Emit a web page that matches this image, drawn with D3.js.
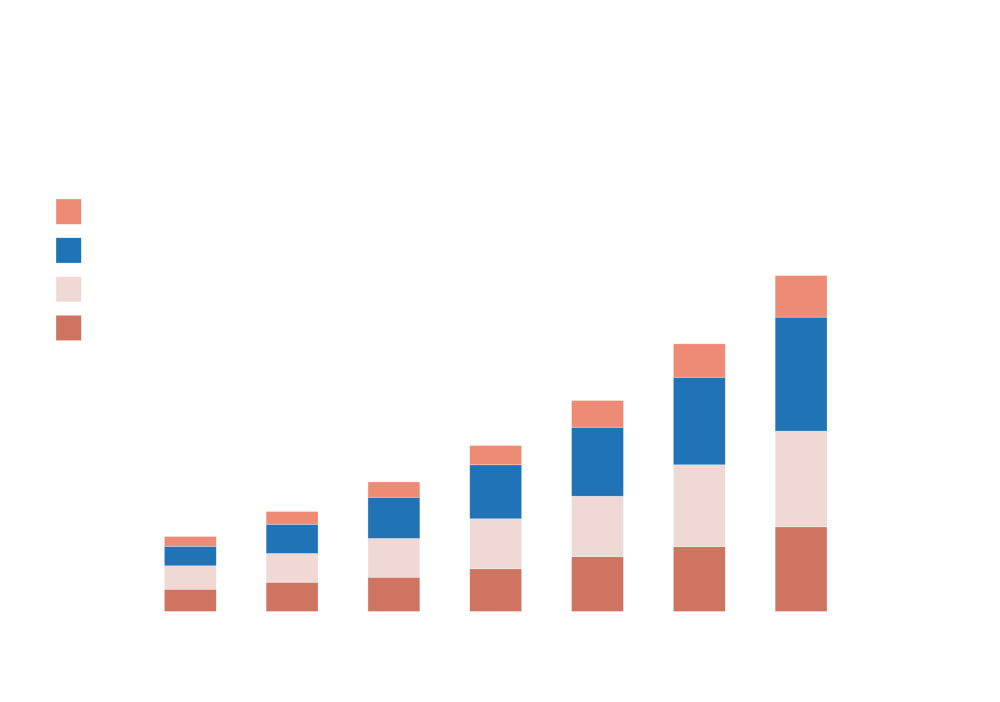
<!DOCTYPE html>
<html>
<head>
<meta charset="utf-8">
<script src="https://cdn.jsdelivr.net/npm/d3@7/dist/d3.min.js"></script>
<style>
  html, body { margin: 0; padding: 0; background: #ffffff; }
  svg { display: block; }
</style>
</head>
<body>
<div id="chart"></div>
<script>
// ---- data ----
const categories = ["C1", "C2", "C3", "C4", "C5", "C6", "C7"];
const seriesNames = ["S4", "S3", "S2", "S1"]; // bottom -> top
const s4 = [22.3, 29.3, 34.3, 42.7, 55.0, 65.0, 84.7];   // dark terracotta (bottom)
const s3 = [23.4, 28.7, 38.7, 50.0, 60.3, 81.7, 95.7];   // pale pink
const s2 = [19.6, 29.3, 41.3, 54.0, 69.0, 87.6, 114.0];  // blue
const s1 = [9.7, 12.7, 15.3, 19.3, 26.7, 33.4, 41.6];    // salmon (top)
const seriesColors = ["#cf7461", "#f0d9d5", "#2073b5", "#ee8b74"];

// ---- build table ----
const seriesValues = [s4, s3, s2, s1];
const table = categories.map((c, i) => {
  const row = { category: c };
  seriesNames.forEach((s, k) => { row[s] = seriesValues[k][i]; });
  return row;
});

const width = 1000, height = 702;
const svg = d3.select("#chart").append("svg")
  .attr("width", width).attr("height", height);

const x = d3.scaleBand()
  .domain(categories)
  .range([139.4, 852])
  .paddingInner(0.49)
  .paddingOuter(0.245);

const y = d3.scaleLinear()
  .domain([0, 600])
  .range([611.5, 11.5]);

const color = d3.scaleOrdinal().domain(seriesNames).range(seriesColors);

const stacked = d3.stack().keys(seriesNames)(table);

svg.append("g")
  .selectAll("g")
  .data(stacked)
  .join("g")
    .attr("fill", d => color(d.key))
  .selectAll("rect")
  .data(d => d)
  .join("rect")
    .attr("x", d => x(d.data.category))
    .attr("width", x.bandwidth())
    .attr("y", d => y(d[1]))
    .attr("height", d => y(d[0]) - y(d[1]))
    .attr("stroke", "#ffffff")
    .attr("stroke-opacity", 0.5)
    .attr("stroke-width", 0.6);

// ---- legend (squares only, top series first) ----
const legendOrder = seriesNames.slice().reverse();
const legendY = d3.scalePoint()
  .domain(legendOrder)
  .range([199, 315.3]);

svg.append("g")
  .selectAll("rect")
  .data(legendOrder)
  .join("rect")
    .attr("x", 56)
    .attr("y", d => legendY(d))
    .attr("width", 25.3)
    .attr("height", 25.3)
    .attr("fill", d => color(d))
    .attr("stroke", "#ffffff")
    .attr("stroke-opacity", 0.5)
    .attr("stroke-width", 0.6);
</script>
</body>
</html>
